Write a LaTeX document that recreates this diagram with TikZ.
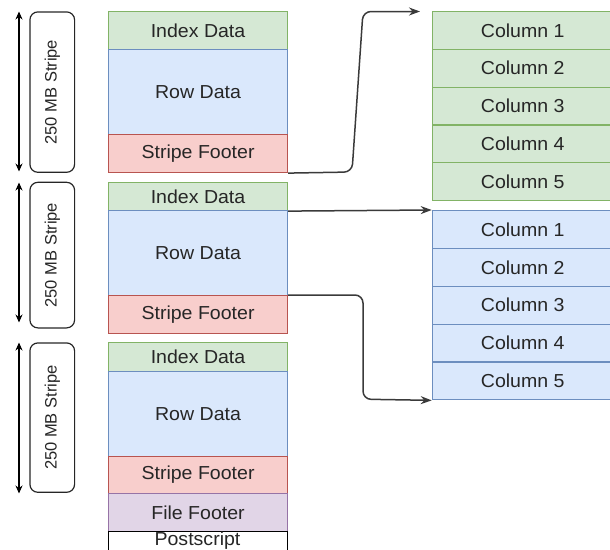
\documentclass[tikz,border=0pt]{standalone}
\usepackage{fontspec}
\setmainfont{Liberation Sans}
\newfontfamily\cellfont[FakeStretch=1.04]{Liberation Sans}
\usetikzlibrary{arrows.meta}

\definecolor{gfill}{HTML}{D5E8D4}\definecolor{gline}{HTML}{82B366}
\definecolor{bfill}{HTML}{DAE8FC}\definecolor{bline}{HTML}{6C8EBF}
\definecolor{rfill}{HTML}{F8CECC}\definecolor{rline}{HTML}{B85450}
\definecolor{pfill}{HTML}{E1D5E7}\definecolor{pline}{HTML}{9673A6}
\definecolor{ink}{HTML}{262626}
\definecolor{wire}{HTML}{3A3A3A}

\tikzset{
  cell/.style={draw, line width=1.1pt, anchor=north west, inner sep=0pt,
    minimum width=179, text=ink, font=\cellfont\fontsize{18.8}{20}\selectfont},
  colcell/.style={cell, minimum width=181},
  gcell/.style={fill=gfill, draw=gline},
  bcell/.style={fill=bfill, draw=bline},
  rcell/.style={fill=rfill, draw=rline},
  pcell/.style={fill=pfill, draw=pline},
  tag/.style={draw=ink, line width=1.2pt, rounded corners=8pt, minimum width=44.7,
    inner sep=0pt, anchor=north west, text=ink},
  tagtext/.style={rotate=90, text=ink, font=\fontsize{16.5}{18}\selectfont},
  span/.style={draw=black, line width=1.3pt, {Stealth[length=8pt,width=7pt]}-{Stealth[length=8pt,width=7pt]}},
  link/.style={draw=wire, line width=1.5pt, rounded corners=8pt, -{Stealth[length=11pt,width=8pt]}}
}

\begin{document}
\begin{tikzpicture}[x=1pt, y=-1pt]
\clip (0,0) rectangle (610,549);

% stripe 1
\node[cell, gcell, minimum height=38] (id1) at (108,11) {Index Data};
\node[cell, bcell, minimum height=85] (rd1) at (108,49) {Row Data};
\node[cell, rcell, minimum height=38] (sf1) at (108,134) {Stripe Footer};
% stripe 2
\node[cell, gcell, minimum height=28.3] (id2) at (108,181.7) {Index Data};
\node[cell, bcell, minimum height=85] (rd2) at (108,210) {Row Data};
\node[cell, rcell, minimum height=38.3] (sf2) at (108,295) {Stripe Footer};
% stripe 3 and file tail
\node[cell, gcell, minimum height=28.4] (id3) at (108,342.3) {Index Data};
\node[cell, bcell, minimum height=85] (rd3) at (108,370.7) {Row Data};
\node[cell, rcell, minimum height=37.6] (sf3) at (108,455.7) {Stripe Footer};
\node[cell, pcell, minimum height=37.7] (ff) at (108,493.3) {File Footer};
\node[cell, draw=black, fill=white, minimum height=38] (psbox) at (108,531) {};
\node[text=ink, font=\cellfont\fontsize{18.8}{20}\selectfont] (ps) at (197.5,541) {Postscript};

% stripe size tags
\node[tag, minimum height=160.4] (t1) at (29.3,11.3) {};
\node[tagtext] at (t1.center) {250 MB Stripe};
\node[tag, minimum height=145.6] (t2) at (29.3,181.7) {};
\node[tagtext] at (t2.center) {250 MB Stripe};
\node[tag, minimum height=149.4] (t3) at (29.3,342.3) {};
\node[tagtext] at (t3.center) {250 MB Stripe};

% stripe extents
\coordinate (a1) at (19,11.5);  \coordinate (b1) at (19,171.5);
\coordinate (a2) at (19,182.5); \coordinate (b2) at (19,322.5);
\coordinate (a3) at (19,342.5); \coordinate (b3) at (19,493.5);
\draw[span] (a1) -- (b1);
\draw[span] (a2) -- (b2);
\draw[span] (a3) -- (b3);

% index columns
\foreach \i in {1,...,5}{
  \node[colcell, gcell, minimum height=37.8] (gc\i) at (431.7,{11+37.8*(\i-1)}) {Column \i};
}
% row-data columns
\foreach \i in {1,...,5}{
  \node[colcell, bcell, minimum height=37.85] (bc\i) at (431.7,{210+37.85*(\i-1)}) {Column \i};
}

% connectors
\coordinate (tip1) at (420,11.5);
\draw[link] (sf1.south east) -- (352,172) -- (363,11.5) -- (tip1);
\draw[link] (id2.south east) -- (bc1.north west);
\draw[link] (sf2.north east) -- (363,295) -- (363,399.2) -- (bc5.south west);
\end{tikzpicture}
\end{document}
